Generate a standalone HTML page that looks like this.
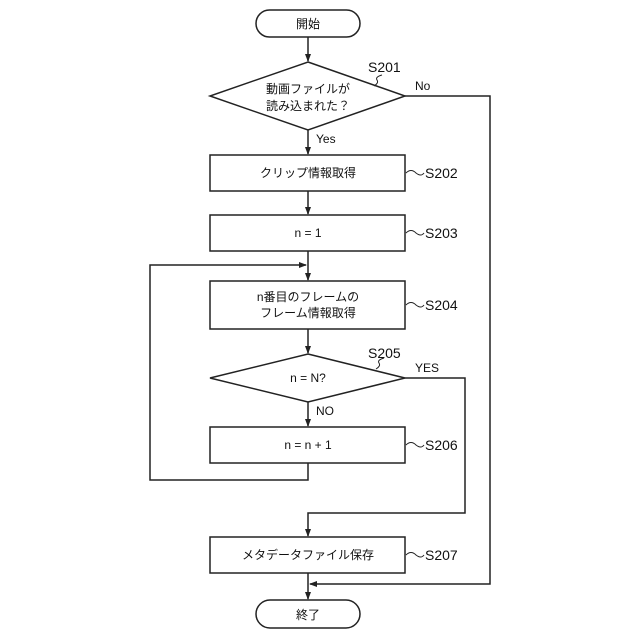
<!DOCTYPE html>
<html><head><meta charset="utf-8"><style>body{margin:0;background:#fff}svg{display:block}text{font-family:"Liberation Sans","Noto Sans CJK JP",sans-serif;fill:#111}</style></head><body>
<svg width="640" height="640" viewBox="0 0 640 640" xmlns="http://www.w3.org/2000/svg">
<defs><marker id="a" markerWidth="8" markerHeight="8" refX="7" refY="4" orient="auto" markerUnits="userSpaceOnUse"><path d="M0,1 L8,4 L0,7 Z" fill="#222"/></marker></defs>
<g stroke="#222" stroke-width="1.5" fill="none">
<rect x="256" y="10" width="104" height="27" rx="13.5" fill="#fff"/>
<line x1="308" y1="37" x2="308" y2="61" marker-end="url(#a)"/>
<polygon points="308,62 405,96 308,130 210,96" fill="#fff"/>
<line x1="308" y1="130" x2="308" y2="154" marker-end="url(#a)"/>
<rect x="210" y="155" width="195" height="36" fill="#fff"/>
<line x1="308" y1="191" x2="308" y2="214" marker-end="url(#a)"/>
<rect x="210" y="215" width="195" height="36" fill="#fff"/>
<line x1="308" y1="251" x2="308" y2="280" marker-end="url(#a)"/>
<rect x="210" y="281" width="195" height="48" fill="#fff"/>
<line x1="308" y1="329" x2="308" y2="353" marker-end="url(#a)"/>
<polygon points="308,354 405,378 308,402 210,378" fill="#fff"/>
<line x1="308" y1="402" x2="308" y2="426" marker-end="url(#a)"/>
<rect x="210" y="427" width="195" height="36" fill="#fff"/>
<polyline points="308,463 308,480 150,480 150,265 306,265" marker-end="url(#a)"/>
<polyline points="405,378 465,378 465,513 308,513 308,536" marker-end="url(#a)"/>
<rect x="210" y="537" width="195" height="36" fill="#fff"/>
<polyline points="405,96 490,96 490,584 310,584" marker-end="url(#a)"/>
<line x1="308" y1="573" x2="308" y2="599" marker-end="url(#a)"/>
<rect x="256" y="600" width="104" height="28" rx="14" fill="#fff"/>
<path d="M374,86 q5,-3 3,-6 q-2,-3 5,-5" stroke-width="1"/>
<path d="M376,369 q5,-3 3,-6 q-2,-3 5,-5" stroke-width="1"/>
<path d="M406,173 q5,-5 10,0 q5,4 8,0" stroke-width="1"/>
<path d="M406,233 q5,-5 10,0 q5,4 8,0" stroke-width="1"/>
<path d="M406,305 q5,-5 10,0 q5,4 8,0" stroke-width="1"/>
<path d="M406,445 q5,-5 10,0 q5,4 8,0" stroke-width="1"/>
<path d="M406,555 q5,-5 10,0 q5,4 8,0" stroke-width="1"/>
</g>
<g font-size="12" text-anchor="middle">
<text x="308" y="28">開始</text>
<text x="308" y="93">動画ファイルが</text>
<text x="308" y="110">読み込まれた？</text>
<text x="308" y="177">クリップ情報取得</text>
<text x="308" y="237">n = 1</text>
<text x="308" y="301">n番目のフレームの</text>
<text x="308" y="317">フレーム情報取得</text>
<text x="308" y="382">n = N?</text>
<text x="308" y="449">n = n + 1</text>
<text x="308" y="559">メタデータファイル保存</text>
<text x="308" y="619">終了</text>
</g>
<g font-size="12">
<text x="316" y="143">Yes</text>
<text x="415" y="90">No</text>
<text x="316" y="415">NO</text>
<text x="415" y="372">YES</text>
</g>
<g font-size="14">
<text x="368" y="72">S201</text>
<text x="425" y="178">S202</text>
<text x="425" y="238">S203</text>
<text x="425" y="310">S204</text>
<text x="368" y="358">S205</text>
<text x="425" y="450">S206</text>
<text x="425" y="560">S207</text>
</g>
</svg>
</body></html>
